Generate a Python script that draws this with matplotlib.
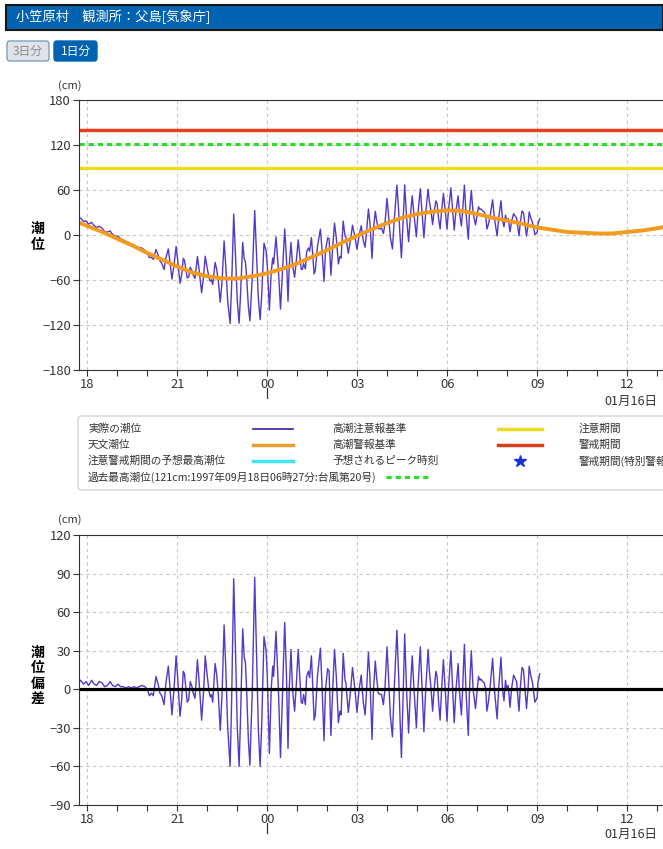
import numpy as np
import matplotlib
matplotlib.use("Agg")
import matplotlib.pyplot as plt
from matplotlib.patches import FancyBboxPatch, Rectangle
from matplotlib.lines import Line2D

plt.rcParams['font.family'] = ['Noto Sans CJK JP', 'DejaVu Sans']

# hours relative to 00:00 on 01/16 (negative = evening of the 15th)
dev_hours = [-6.30, -6.22, -6.13, -6.04, -5.96, -5.86, -5.77, -5.69, -5.60, -5.51,
             -5.42, -5.33, -5.24, -5.16, -5.07, -4.98, -4.89, -4.80, -4.71, -4.62,
             -4.53, -4.44, -4.36, -4.27, -4.18, -4.08, -4.00, -3.93, -3.86, -3.80,
             -3.71, -3.63, -3.58, -3.52, -3.44, -3.38, -3.30, -3.24, -3.18, -3.11,
             -3.04, -2.99, -2.91, -2.86, -2.80, -2.76, -2.71, -2.67, -2.62, -2.57,
             -2.51, -2.47, -2.41, -2.33, -2.27, -2.19, -2.12, -2.07, -2.00, -1.94,
             -1.90, -1.86, -1.82, -1.74, -1.69, -1.63, -1.57, -1.51, -1.44, -1.39,
             -1.32, -1.24, -1.19, -1.12, -1.06, -1.00, -0.94, -0.89, -0.82, -0.77,
             -0.73, -0.69, -0.63, -0.58, -0.50, -0.42, -0.36, -0.30, -0.24, -0.19,
             -0.11, -0.04, 0.00, 0.07, 0.13, 0.18, 0.21, 0.29, 0.37, 0.44,
             0.51, 0.58, 0.64, 0.69, 0.73, 0.79, 0.84, 0.91, 0.97, 1.03,
             1.08, 1.13, 1.17, 1.21, 1.27, 1.31, 1.37, 1.41, 1.47, 1.51,
             1.56, 1.60, 1.67, 1.77, 1.82, 1.89, 1.94, 2.01, 2.06, 2.12,
             2.18, 2.24, 2.30, 2.37, 2.42, 2.46, 2.53, 2.59, 2.62, 2.70,
             2.78, 2.84, 2.92, 2.99, 3.06, 3.13, 3.20, 3.26, 3.31, 3.37,
             3.42, 3.49, 3.54, 3.60, 3.64, 3.70, 3.76, 3.81, 3.87, 3.92,
             3.99, 4.04, 4.10, 4.17, 4.23, 4.32, 4.38, 4.42, 4.47, 4.51,
             4.58, 4.64, 4.71, 4.77, 4.83, 4.89, 4.97, 5.02, 5.10, 5.16,
             5.22, 5.28, 5.36, 5.40, 5.46, 5.51, 5.56, 5.62, 5.66, 5.71,
             5.76, 5.81, 5.87, 5.93, 5.99, 6.04, 6.12, 6.18, 6.23, 6.29,
             6.36, 6.40, 6.47, 6.51, 6.57, 6.62, 6.70, 6.74, 6.80, 6.86,
             6.94, 7.00, 7.04, 7.09, 7.12, 7.18, 7.23, 7.28, 7.32, 7.37,
             7.42, 7.51, 7.57, 7.66, 7.71, 7.79, 7.84, 7.89, 7.94, 7.98,
             8.03, 8.09, 8.14, 8.21, 8.27, 8.31, 8.39, 8.43, 8.49, 8.54,
             8.59, 8.64, 8.69, 8.73, 8.78, 8.84, 8.92, 8.97, 9.00, 9.02,
             9.08]
dev_cm = [5, 7, 4, 6, 3, 7, 4, 3, 6, 5,
          2, 3, 6, 3, 2, 4, 2, 2, 1, 2,
          1, 2, 1, 2, 3, 2, 0, -5, -3, -5,
          10, 3, -3, -5, -12, 5, 18, 0, -20, 0,
          26, 10, -21, -10, 14, 12, 0, -10, -8, 6,
          2, -3, -7, 23, 5, -24, 0, 26, 10, -2,
          -6, -4, -10, 20, 12, -5, -32, -5, 50, 20,
          -30, -60, -10, 86, 30, -30, -60, -20, 47, 25,
          21, 0, -40, -59, 0, 87, 30, -30, -60, -30,
          41, 30, 10, -50, 0, 18, 10, 45, 0, -53,
          0, 52, 10, -46, 0, 31, 0, -17, 5, 31,
          10, -10, -11, -4, -12, 10, 14, 9, 26, 5,
          -24, -20, 10, 32, 5, -40, 0, 16, 14, -36,
          0, 31, 10, -26, -17, -20, 28, 7, 5, -18,
          0, 17, 0, -18, 0, 11, -10, -20, 0, 29,
          10, -39, 0, 22, 10, -3, -4, -4, -12, 0,
          33, 10, -20, -37, 0, 46, 10, -20, -53, -20,
          43, 0, -34, 0, 26, 0, -30, 0, 33, 0,
          -33, 0, 31, 15, 0, -17, 0, 14, 10, -10,
          -24, 0, 23, 0, -25, 0, 30, 0, -26, 0,
          20, 0, -20, 0, 35, 0, -36, 0, 30, 0,
          -15, 0, 10, 7, 8, 6, 5, 0, -17, -10,
          0, 24, 0, -23, 0, 25, 0, -9, 7, 0,
          3, -14, 0, 11, 8, 6, -17, 0, 17, 15,
          0, -15, 0, 18, 11, 5, -10, -8, -6, 5,
          12]

astro_hours = [-6.5, -6.0, -5.5, -5.0, -4.5, -4.0, -3.5, -3.0, -2.5, -2.0,
               -1.5, -1.0, -0.5, 0.0, 0.5, 1.0, 1.5, 2.0, 2.5, 3.0,
               3.5, 4.0, 4.5, 5.0, 5.5, 6.0, 6.5, 7.0, 7.5, 8.0,
               8.5, 9.0, 9.5, 10.0, 10.5, 11.0, 11.5, 12.0, 12.5, 13.0, 13.5]
astro_cm = [20, 12, 4, -5, -14, -24, -33, -42, -50, -55,
            -58, -58, -55, -51, -45, -38, -29, -20, -10, -1,
            8, 16, 23, 28, 31, 33, 32, 28, 23, 19,
            15, 10, 7, 4, 3, 2, 2, 4, 6, 9, 13]

warning_level = 140
record_level = 121
advisory_level = 90

hour_ticks = [-6, -3, 0, 3, 6, 9, 12]
hour_labels = ['18', '21', '00', '03', '06', '09', '12']

# observed level = astronomical tide + deviation
obs_cm = np.interp(dev_hours, astro_hours, astro_cm) + np.array(dev_cm)

W, H = 663, 849
fig = plt.figure(figsize=(W / 100, H / 100), dpi=100)


def fbox(l, t, r, b):
    return [l / W, 1 - b / H, (r - l) / W, (b - t) / H]


def fpt(x, y):
    return x / W, 1 - y / H


PURPLE = '#5538c8'
ORANGE = '#f29b1d'
TXT = '#333333'

# header bar
fig.patches.append(Rectangle(fpt(6, 30), (W - 6) / W, 25 / H, transform=fig.transFigure,
                             facecolor='#0063b1', edgecolor='#151515', lw=1.5))
fig.text(*fpt(16, 17), '小笠原村　観測所：父島[気象庁]', color='white', fontsize=9.5, va='center')

# buttons
for l, r, txt, fc, ec, tc in [(7, 49, '3日分', '#dfe4ea', '#7f9fbf', '#8a8a8a'),
                              (54, 97, '1日分', '#0063b1', '#0063b1', 'white')]:
    fig.patches.append(FancyBboxPatch(fpt(l, 61), (r - l) / W, 20 / H, transform=fig.transFigure,
                                      boxstyle='round,pad=0,rounding_size=0.004',
                                      facecolor=fc, edgecolor=ec, lw=1))
    fig.text(*fpt((l + r) / 2, 51), txt, color=tc, fontsize=8.5, ha='center', va='center')


def style_axes(ax, ymin, ymax, ystep):
    ax.set_xlim(-6.287, 13.19)
    ax.set_ylim(ymin, ymax)
    ax.set_xticks(hour_ticks)
    ax.set_xticklabels(hour_labels)
    ax.set_xticks(np.arange(-6, 14, 1), minor=True)
    ax.set_yticks(np.arange(ymin, ymax + 1, ystep))
    ax.tick_params(which='both', direction='out', length=4, width=0.8, color=TXT,
                   labelsize=9.3, labelcolor=TXT, pad=1.5)
    ax.grid(True, which='major', color='#c8c8c8', lw=0.8, ls=(0, (3, 3)))
    ax.set_axisbelow(True)
    ax.spines['right'].set_visible(False)
    for s in ['left', 'bottom', 'top']:
        ax.spines[s].set_color(TXT)
        ax.spines[s].set_linewidth(0.8)
    # date change marker under the 00 label
    ax.plot([0, 0], [-0.068, -0.105], transform=ax.get_xaxis_transform(), color=TXT,
            lw=0.9, clip_on=False)


# ---- top chart: tide level
ax1 = fig.add_axes(fbox(78.7, 100, 663, 370))
style_axes(ax1, -180, 180, 60)
ax1.axhline(warning_level, color='#e8401c', lw=2.5)
ax1.axhline(advisory_level, color='#ecdc1e', lw=2.3)
ax1.axhline(record_level, color='#22e022', lw=2.2, ls=(0, (1.7, 1.3)))
ax1.plot(dev_hours, obs_cm, color=PURPLE, lw=1.0)
ax1.plot(astro_hours, astro_cm, color=ORANGE, lw=2.8)
fig.text(*fpt(70, 86), '(cm)', fontsize=8, ha='center', va='center', color=TXT)
fig.text(*fpt(38, 237), '潮\n位', fontsize=10, fontweight='bold', ha='center', va='center',
         linespacing=1.15)
fig.text(*fpt(657, 401), '01月16日', fontsize=9, ha='right', va='center', color=TXT)

# ---- legend
fig.patches.append(FancyBboxPatch(fpt(78, 490), (700 - 78) / W, 74 / H, transform=fig.transFigure,
                                  boxstyle='round,pad=0,rounding_size=0.005',
                                  facecolor='white', edgecolor='#d4d4d4', lw=1))
rows = [429, 445, 461, 477]
leg_items = [
    (88, rows[0], '実際の潮位', (253, 293), dict(color='#3b1aa0', lw=1.2)),
    (88, rows[1], '天文潮位', (253, 293), dict(color='#e8a030', lw=2.5)),
    (88, rows[2], '注意警戒期間の予想最高潮位', (253, 293), dict(color='#44e3f0', lw=2.5)),
    (332, rows[0], '高潮注意報基準', (498, 542), dict(color='#ecdc1e', lw=2.5)),
    (332, rows[1], '高潮警報基準', (498, 542), dict(color='#d8401c', lw=2.5)),
]
for x, y, txt, (x0, x1), kw in leg_items:
    fig.text(*fpt(x, y), txt, fontsize=7.7, va='center', color=TXT)
    fig.lines.append(Line2D([x0 / W, x1 / W], [1 - y / H, 1 - y / H], transform=fig.transFigure, **kw))
fig.text(*fpt(332, rows[2]), '予想されるピーク時刻', fontsize=7.7, va='center', color=TXT)
fig.lines.append(Line2D([520 / W], [1 - rows[2] / H], transform=fig.transFigure, marker='*',
                        markersize=9, color='#1030d8', ls='none'))
fig.text(*fpt(88, rows[3]), '過去最高潮位(121cm:1997年09月18日06時27分:台風第20号)', fontsize=7.7,
         va='center', color=TXT)
fig.lines.append(Line2D([386 / W, 431 / W], [1 - rows[3] / H, 1 - rows[3] / H], transform=fig.transFigure,
                        color='#22e022', lw=2.2, ls=(0, (1.7, 1.3))))
for y, txt in zip(rows[:3], ['注意期間', '警戒期間', '警戒期間(特別警報級)']):
    fig.text(*fpt(579, y), txt, fontsize=7.7, va='center', color=TXT)

# ---- bottom chart: deviation
ax2 = fig.add_axes(fbox(78.7, 535, 663, 805))
style_axes(ax2, -90, 120, 30)
ax2.plot(dev_hours, dev_cm, color=PURPLE, lw=1.0)
ax2.axhline(0, color='black', lw=2.3)
fig.text(*fpt(70, 520), '(cm)', fontsize=8, ha='center', va='center', color=TXT)
fig.text(*fpt(38, 676), '潮\n位\n偏\n差', fontsize=10, fontweight='bold', ha='center', va='center',
         linespacing=1.15)
fig.text(*fpt(657, 834), '01月16日', fontsize=9, ha='right', va='center', color=TXT)

fig.savefig('out.png', dpi=100)
